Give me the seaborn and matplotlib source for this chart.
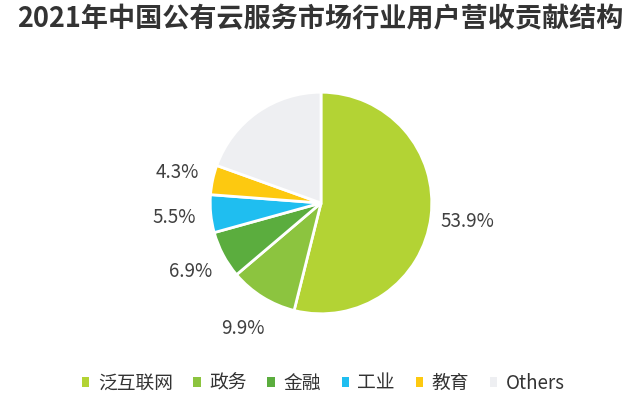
import matplotlib
matplotlib.use("Agg")
import matplotlib.pyplot as plt
import seaborn as sns
from matplotlib.patches import Patch

sns.set_theme(style="white")
plt.rcParams['font.family'] = ['Noto Sans CJK SC', 'DejaVu Sans']

categories = ["泛互联网", "政务", "金融", "工业", "教育", "Others"]
values = [53.9, 9.9, 6.9, 5.5, 4.3, 19.5]
labels = ["53.9%", "9.9%", "6.9%", "5.5%", "4.3%", ""]
colors = ["#B3D334", "#8CC43F", "#5BAD3E", "#1FBEF0", "#FDC910", "#EEEFF2"]
title = "2021年中国公有云服务市场行业用户营收贡献结构"

fig = plt.figure(figsize=(6.4, 3.97), dpi=100)
ax = fig.add_axes([(321 - 113) / 640, (397 - 203 - 113) / 397, 226 / 640, 226 / 397])

wedges, texts = ax.pie(values, labels=labels, colors=colors, startangle=90,
                       counterclock=False, labeldistance=1.33,
                       wedgeprops=dict(edgecolor="white", linewidth=2),
                       textprops=dict(fontsize=13.5, color="#404040"))
for t in texts:
    t.set_ha("center")
    t.set_va("center")
ax.set_xlim(-1.02, 1.02)
ax.set_ylim(-1.02, 1.02)
ax.set_aspect("equal")
ax.axis("off")

fig.text(0.5, 0.952, title, ha="center", va="center", fontsize=19.5,
         fontweight="bold", color="#333333")

handles = [Patch(facecolor=c, edgecolor="none") for c in colors]
fig.legend(handles, categories, loc="center", bbox_to_anchor=(0.505, 0.035),
           ncol=6, frameon=False, fontsize=13.5, handlelength=0.4,
           handleheight=0.4, handletextpad=0.45, columnspacing=1.1,
           labelcolor="#333333")

fig.savefig("out.png", dpi=100, facecolor="white")
